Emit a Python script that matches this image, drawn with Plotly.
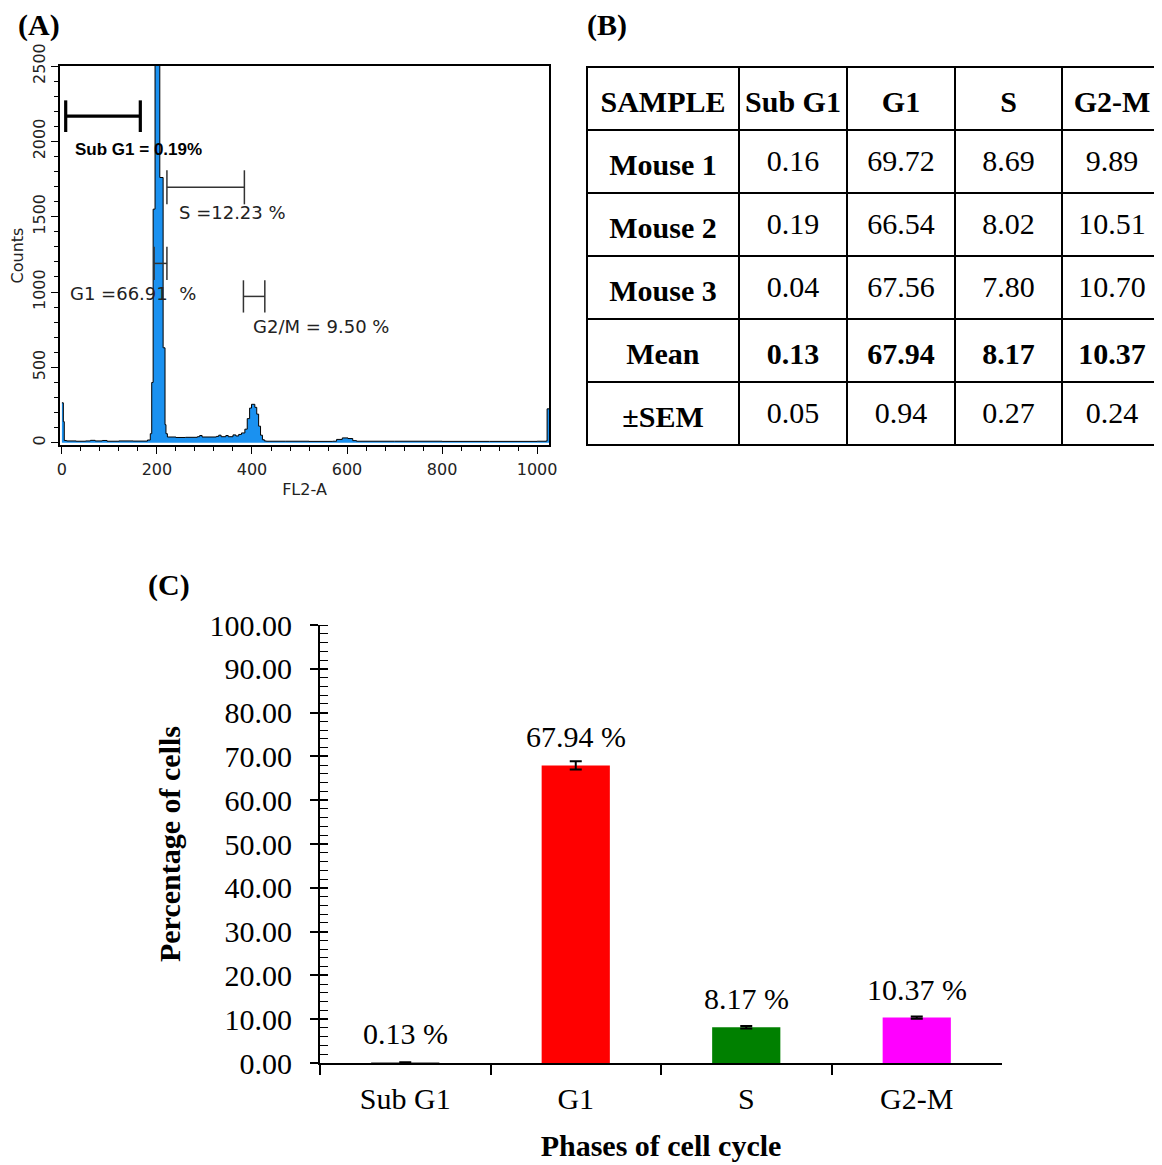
import plotly.graph_objects as go

# page body has an 8px margin, so the figure is sized to fill the rest of the 1162x1165 window
OFF = 8
W, H = 1162 - OFF, 1165 - OFF

# ---------------- Panel A data (flow cytometry histogram) ----------------
fl2_channel = [0, 3, 5, 10, 30, 50, 60, 70, 85, 95, 120, 150, 180, 186, 189, 192, 196, 206, 213, 217,
               219, 222, 240, 260, 285, 290, 295, 325, 330, 335, 345, 350, 360, 366, 372, 378, 385,
               390, 395, 399, 406, 410, 414, 418, 422, 426, 430, 470, 520, 570, 578, 590, 602, 612,
               620, 700, 800, 900, 1000, 1019, 1021, 1025]
fl2_counts = [265, 140, 15, 12, 10, 12, 16, 12, 15, 10, 12, 11, 18, 60, 400, 1550, 2600, 1760, 630, 120,
              60, 38, 35, 36, 40, 48, 38, 42, 50, 40, 48, 40, 52, 45, 55, 65, 90,
              160, 230, 255, 235, 190, 110, 50, 20, 12, 10, 10, 9, 10, 22, 32, 28, 14,
              10, 10, 9, 9, 10, 12, 225, 225]

gate_names = ["Sub G1", "S", "G1", "G2/M"]
gate_start = [8, 221, 194, 382]
gate_end = [165, 384, 221, 427]
gate_level = [2167, 1695, 1190, 971]
gate_cap = [105, 113, 110, 107]
gate_width = [3.2, 1.5, 1.5, 1.5]
gate_text = ["<b>Sub G1 = 0.19%</b>", "S =12.23 %", "G1 =66.91  %", "G2/M = 9.50 %"]
gate_text_x = [23, 242, 13, 398]
gate_text_y = [1948, 1529, 991, 771]

# ---------------- Panel B data (table) ----------------
table_header = ["SAMPLE", "Sub G1", "G1", "S", "G2-M"]
samples = ["Mouse 1", "Mouse 2", "Mouse 3", "Mean", "±SEM"]
sub_g1 = [0.16, 0.19, 0.04, 0.13, 0.05]
g1 = [69.72, 66.54, 67.56, 67.94, 0.94]
s_phase = [8.69, 8.02, 7.80, 8.17, 0.27]
g2m = [9.89, 10.51, 10.70, 10.37, 0.24]

# ---------------- Panel C data (bar chart) ----------------
phases = ["Sub G1", "G1", "S", "G2-M"]
mean_pct = [0.13, 67.94, 8.17, 10.37]
sem_pct = [0.05, 0.94, 0.27, 0.24]
bar_colors = ["#8c8c8c", "#ff0000", "#008000", "#ff00ff"]

SERIF = "Liberation Serif"
SANS = "Liberation Sans"
DEJA = "DejaVu Sans"


def px_x(p):
    return min(1.0, max(0.0, (p - OFF) / W))


def px_y(p):
    return min(1.0, max(0.0, 1 - (p - OFF) / H))


fig = go.Figure()

# Panel A histogram
fig.add_trace(go.Scatter(
    x=fl2_channel, y=fl2_counts, mode="lines", line=dict(color="black", width=1, shape="hv"),
    fill="tozeroy", fillcolor="#1a91f0", xaxis="x", yaxis="y", showlegend=False, hoverinfo="skip"))

# gate markers
for i in range(len(gate_names)):
    a, b, lv, c = gate_start[i], gate_end[i], gate_level[i], gate_cap[i]
    col = "black" if i == 0 else "#333333"
    fig.add_trace(go.Scatter(
        x=[a, a, None, a, b, None, b, b], y=[lv - c, lv + c, None, lv, lv, None, lv - c, lv + c],
        mode="lines", line=dict(color=col, width=gate_width[i]), xaxis="x", yaxis="y",
        showlegend=False, hoverinfo="skip"))

annotations = []
for i in range(len(gate_names)):
    annotations.append(dict(
        x=gate_text_x[i], y=gate_text_y[i], xref="x", yref="y", text=gate_text[i], showarrow=False,
        xanchor="left", yanchor="middle",
        font=dict(family=SANS if i == 0 else DEJA, size=17 if i == 0 else 18,
                  color="black" if i == 0 else "#222222")))

# Panel B table
def fmt(v):
    return f"{v:.2f}"


cols = [sub_g1, g1, s_phase, g2m]
cell_values = [[f"<b>{s.replace(' ', chr(160))}</b>" for s in samples]]
for col in cols:
    cell_values.append([f"<b>{fmt(v)}</b>" if samples[k] == "Mean" else fmt(v)
                        for k, v in enumerate(col)])
header_values = [f"<b>{h.replace(' ', chr(160))}</b>" for h in table_header]
col_w = [152, 108, 108, 107, 100]
ROW_H = 63
TABLE_TOP, TABLE_BOT = 67, 446
TEXT_DROP = 10  # table text sits lower in its cells than plotly's default top padding

# grid (borders) of the table
fig.add_trace(go.Table(
    domain=dict(x=[px_x(587), 1.0], y=[px_y(TABLE_BOT + 1), px_y(TABLE_TOP)]),
    columnwidth=col_w,
    header=dict(values=[""] * len(header_values), height=ROW_H,
                line=dict(color="black", width=2.5), fill=dict(color="white")),
    cells=dict(values=[[""] * len(samples) for _ in header_values], height=ROW_H,
               line=dict(color="black", width=2.5), fill=dict(color="white")),
))
# text of the table, dropped slightly to sit centred in the cells
fig.add_trace(go.Table(
    domain=dict(x=[px_x(587), 1.0], y=[px_y(TABLE_BOT + 1 + TEXT_DROP), px_y(TABLE_TOP + TEXT_DROP)]),
    columnwidth=col_w,
    header=dict(values=header_values, height=ROW_H, align="center",
                line=dict(color="rgba(0,0,0,0)", width=0), fill=dict(color="rgba(0,0,0,0)"),
                font=dict(family=SERIF, size=30, color="black")),
    cells=dict(values=cell_values, height=ROW_H, align="center",
               line=dict(color="rgba(0,0,0,0)", width=0), fill=dict(color="rgba(0,0,0,0)"),
               font=dict(family=SERIF, size=30, color="black")),
))

# Panel C bars
fig.add_trace(go.Bar(
    x=phases, y=mean_pct, marker=dict(color=bar_colors, line=dict(width=0)), width=0.4,
    error_y=dict(type="data", array=sem_pct, visible=True, color="black", thickness=2, width=6),
    xaxis="x2", yaxis="y2", showlegend=False, hoverinfo="skip"))

for ph, m in zip(phases, mean_pct):
    annotations.append(dict(
        x=ph, y=m, xref="x2", yref="y2", text=f"{m:.2f} %", showarrow=False, yanchor="bottom",
        yshift=10, font=dict(family=SERIF, size=30, color="black")))

# panel labels
for lab, x, y in [("(A)", 16, 25), ("(B)", 585, 25), ("(C)", 146, 585)]:
    annotations.append(dict(
        x=px_x(x), y=px_y(y), xref="paper", yref="paper", text=f"<b>{lab}</b>", showarrow=False,
        xanchor="left", yanchor="middle", font=dict(family=SERIF, size=30, color="black")))

fig.update_layout(
    width=W, height=H, margin=dict(l=0, r=0, t=0, b=0), paper_bgcolor="white", plot_bgcolor="white",
    showlegend=False, annotations=annotations,
    xaxis=dict(
        domain=[px_x(60), px_x(549)], anchor="y", range=[-4, 1025], showgrid=False, zeroline=False,
        showline=True, mirror=True, linecolor="black", linewidth=1.5,
        ticks="outside", tick0=0, dtick=200, ticklen=7, tickwidth=1.2, tickcolor="black",
        minor=dict(ticks="outside", dtick=40, tick0=0, ticklen=4, tickwidth=1, tickcolor="black", showgrid=False),
        tickfont=dict(family=DEJA, size=16, color="#222222"), ticklabelstandoff=2,
        title=dict(text="FL2-A", font=dict(family=DEJA, size=16, color="#222222"), standoff=6),
        automargin=False),
    yaxis=dict(
        domain=[px_y(445), px_y(66)], anchor="x", range=[-15, 2500], showgrid=False, zeroline=False,
        showline=True, mirror=True, linecolor="black", linewidth=1.5,
        ticks="outside", tick0=0, dtick=500, ticklen=7, tickwidth=1.2, tickcolor="black",
        minor=dict(ticks="outside", dtick=100, tick0=0, ticklen=4, tickwidth=1, tickcolor="black", showgrid=False),
        tickangle=-90, tickfont=dict(family=DEJA, size=16, color="#222222"),
        title=dict(text="Counts", font=dict(family=DEJA, size=16, color="#222222"), standoff=3),
        automargin=False),
    xaxis2=dict(
        domain=[px_x(320), px_x(1002)], anchor="y2", range=[-0.5, 3.5], showgrid=False, zeroline=False,
        showline=True, linecolor="black", linewidth=2, ticks="outside", tickson="boundaries",
        ticklen=10, tickwidth=1.5, tickcolor="black", ticklabelstandoff=8,
        tickfont=dict(family=SERIF, size=30, color="black"),
        title=dict(text="<b>Phases of cell cycle</b>", font=dict(family=SERIF, size=30, color="black"), standoff=21),
        automargin=False),
    yaxis2=dict(
        domain=[px_y(1063), px_y(625)], anchor="x2", range=[0, 100], showgrid=False, zeroline=False,
        showline=True, linecolor="black", linewidth=2, ticks="outside", tick0=0, dtick=10,
        ticklen=8, tickwidth=1.5, tickcolor="black", tickformat=".2f", ticklabelstandoff=12,
        minor=dict(ticks="inside", dtick=2, tick0=0, ticklen=8, tickwidth=1.2, tickcolor="black", showgrid=False),
        tickfont=dict(family=SERIF, size=30, color="black"),
        title=dict(text="<b>Percentage of cells</b>", font=dict(family=SERIF, size=30, color="black"), standoff=20),
        automargin=False),
    yaxis3=dict(
        overlaying="y2", anchor="x2", side="left", range=[0, 100], showgrid=False, zeroline=False,
        showline=False, ticks="inside", tick0=0, dtick=10, ticklen=8, tickwidth=1.5, tickcolor="black",
        showticklabels=False),
)

# invisible point so that the crossing-tick overlay axis is drawn
fig.add_trace(go.Scatter(x=[phases[0]], y=[0], mode="markers", marker=dict(opacity=0), xaxis="x2",
                         yaxis="y3", showlegend=False, hoverinfo="skip"))

fig.write_html("out.html")
